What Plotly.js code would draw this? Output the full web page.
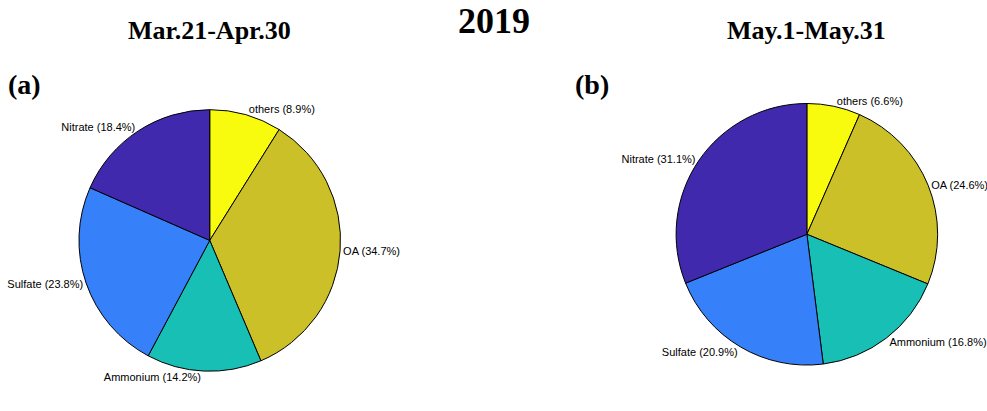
<!DOCTYPE html>
<html>
<head>
<meta charset="utf-8">
<script src="https://cdn.plot.ly/plotly-3.0.1.min.js"></script>
<style>body{margin:0}#chart{width:987px;height:411px}</style>
</head>
<body>
<div id="chart"></div>
<script>
var species = ['others', 'OA', 'Ammonium', 'Sulfate', 'Nitrate'];
var shareMarApr = [8.9, 34.7, 14.2, 23.8, 18.4];
var shareMay = [6.6, 24.6, 16.8, 20.9, 31.1];
var colors = ['#f9fb0e', '#cbc027', '#17bfb5', '#3680fa', '#4129ae'];

function labels(vals) {
  return species.map(function (s, i) { return s + ' (' + vals[i].toFixed(1) + '%)'; });
}

function pie(vals, dx, dy) {
  return {
    type: 'pie', values: vals, labels: species, text: labels(vals),
    textinfo: 'text', textposition: 'outside', sort: false, direction: 'clockwise',
    rotation: 0, hoverinfo: 'none', showlegend: false,
    marker: {colors: colors, line: {color: '#000', width: 1}},
    textfont: {family: 'Liberation Sans, Arial', size: 11, color: '#000'},
    domain: {x: dx, y: dy}
  };
}

var data = [
  pie(shareMarApr, [0.08, 0.345], [0.06, 0.77]),
  pie(shareMay, [0.685, 0.95], [0.08, 0.78])
];

var serif = 'Liberation Serif, Times New Roman';
function note(text, x, y, size) {
  return {text: '<b>' + text + '</b>', x: x, y: y, xref: 'paper', yref: 'paper',
    showarrow: false, xanchor: 'center', yanchor: 'middle',
    font: {family: serif, size: size, color: '#000'}};
}

var layout = {
  margin: {l: 0, r: 0, t: 0, b: 0},
  paper_bgcolor: '#fff',
  annotations: [
    note('2019', 0.5, 0.95, 36),
    note('Mar.21-Apr.30', 0.212, 0.925, 26),
    note('May.1-May.31', 0.817, 0.925, 26),
    note('(a)', 0.025, 0.795, 28),
    note('(b)', 0.6, 0.795, 28)
  ]
};
Plotly.newPlot('chart', data, layout, {displayModeBar: false});
</script>
</body>
</html>
